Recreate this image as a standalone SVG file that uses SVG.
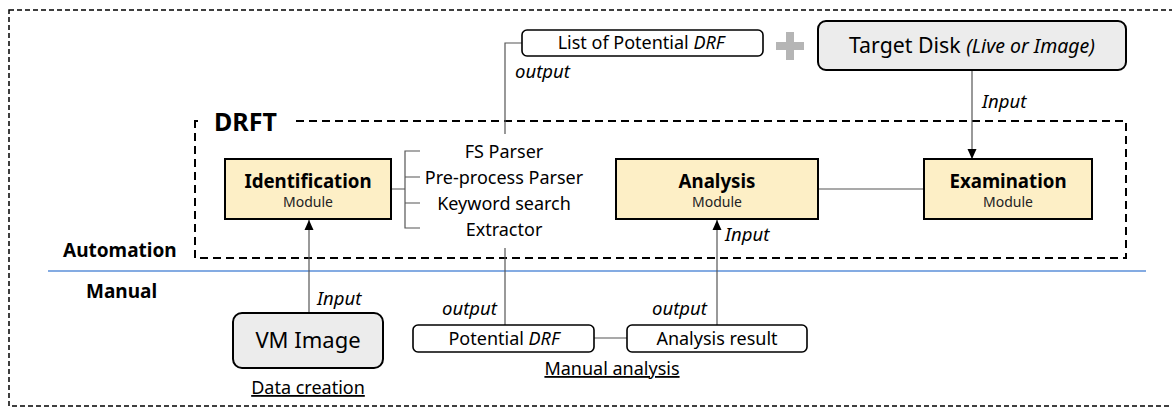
<svg xmlns="http://www.w3.org/2000/svg" width="1172" height="408" viewBox="0 0 1172 408">
<defs>
<marker id="arr" viewBox="0 0 10 10" refX="10" refY="5" markerWidth="10" markerHeight="10" markerUnits="userSpaceOnUse" orient="auto">
<path d="M0,0.5 L10,5 L0,9.5 z" fill="#000"/>
</marker>
<style>
text{font-family:"Noto Sans","Open Sans",sans-serif;fill:#000}
.mod{fill:#fdefc6;stroke:#000;stroke-width:2}
.gray{fill:#ececec;stroke:#000;stroke-width:2}
.wbox{fill:#fff;stroke:#000;stroke-width:1.6}
.ln{stroke:#555;stroke-width:1.2;fill:none}
.title{font-size:18.7px;font-weight:bold}
.sub{font-size:14px;fill:#222}
.item{font-size:18px}
.box{font-size:18px}
.it{font-size:18.5px;font-style:italic}
.lbl{font-size:19px;font-weight:bold}
.ul{font-size:18px;text-decoration:underline}
</style>
</defs>
<rect x="9" y="10" width="1170" height="396" fill="none" stroke="#000" stroke-width="1.5" stroke-dasharray="5,3"/>
<g id="drft">
<path d="M195,126 L195,121 L200,121 M296,121 L1126,121 L1126,258 L195,258 L195,126" fill="none" stroke="#000" stroke-width="2" stroke-dasharray="8,5"/>
<text x="214" y="131" font-size="25" font-weight="bold">DRFT</text>
</g>
<line x1="48" y1="271" x2="1146" y2="271" stroke="#5b8fd9" stroke-width="1.5"/>
<text class="lbl" x="63" y="257">Automation</text>
<text class="lbl" x="86" y="298">Manual</text>
<g id="connectors">
<path class="ln" d="M522,43 L505,43 L505,134"/>
<path class="ln" d="M972,70 L972,159" marker-end="url(#arr)"/>
<path class="ln" d="M391,189 L405,189 M420,151 L405,151 L405,228 L420,228 M405,177 L420,177 M405,203 L420,203"/>
<path class="ln" d="M818,189 L924,189"/>
<path class="ln" d="M309,313 L309,220" marker-end="url(#arr)"/>
<path class="ln" d="M505,248 L505,325"/>
<path class="ln" d="M594,338 L627,338"/>
<path class="ln" d="M717,325 L717,220" marker-end="url(#arr)"/>
</g>
<g id="list">
<rect class="wbox" x="522" y="30" width="241" height="26" rx="5"/>
<text class="box" x="641" y="49" text-anchor="middle">List of Potential <tspan font-style="italic">DRF</tspan></text>
<text class="it" x="515" y="78">output</text>
</g>
<g id="plus" fill="#b5b5b5">
<rect x="776" y="42" width="28" height="8"/>
<rect x="786" y="32" width="8" height="28"/>
</g>
<g id="target">
<rect class="gray" x="818" y="21" width="308" height="49" rx="8"/>
<text x="972" y="53" text-anchor="middle" font-size="21.3">Target Disk <tspan font-size="19.5" font-style="italic">(Live or Image)</tspan></text>
<text class="it" x="982" y="108">Input</text>
</g>
<g id="identification">
<rect class="mod" x="225" y="159" width="166" height="60"/>
<text class="title" x="308" y="188" text-anchor="middle">Identification</text>
<text class="sub" x="308" y="207" text-anchor="middle">Module</text>
</g>
<g id="items">
<text class="item" x="504" y="158" text-anchor="middle">FS Parser</text>
<text class="item" x="504" y="184" text-anchor="middle">Pre-process Parser</text>
<text class="item" x="504" y="210" text-anchor="middle">Keyword search</text>
<text class="item" x="504" y="236" text-anchor="middle">Extractor</text>
</g>
<g id="analysis">
<rect class="mod" x="616" y="159" width="202" height="60"/>
<text class="title" x="717" y="188" text-anchor="middle">Analysis</text>
<text class="sub" x="717" y="207" text-anchor="middle">Module</text>
<text class="it" x="725" y="241">Input</text>
</g>
<g id="examination">
<rect class="mod" x="924" y="159" width="168" height="60"/>
<text class="title" x="1008" y="188" text-anchor="middle">Examination</text>
<text class="sub" x="1008" y="207" text-anchor="middle">Module</text>
</g>
<g id="vm">
<rect class="gray" x="233" y="313" width="150" height="55" rx="9"/>
<text x="308" y="348" text-anchor="middle" font-size="22">VM Image</text>
<text class="it" x="317" y="305">Input</text>
<text class="ul" x="308" y="394" text-anchor="middle">Data creation</text>
</g>
<g id="potential">
<rect class="wbox" x="413" y="325" width="181" height="27" rx="5"/>
<text class="box" x="504" y="345" text-anchor="middle">Potential <tspan font-style="italic">DRF</tspan></text>
<text class="it" x="442" y="315">output</text>
</g>
<g id="result">
<rect class="wbox" x="627" y="325" width="180" height="27" rx="5"/>
<text class="box" x="717" y="345" text-anchor="middle">Analysis result</text>
<text class="it" x="652" y="315">output</text>
</g>
<text class="ul" x="612" y="375" font-size="17.5" text-anchor="middle">Manual analysis</text>
</svg>
